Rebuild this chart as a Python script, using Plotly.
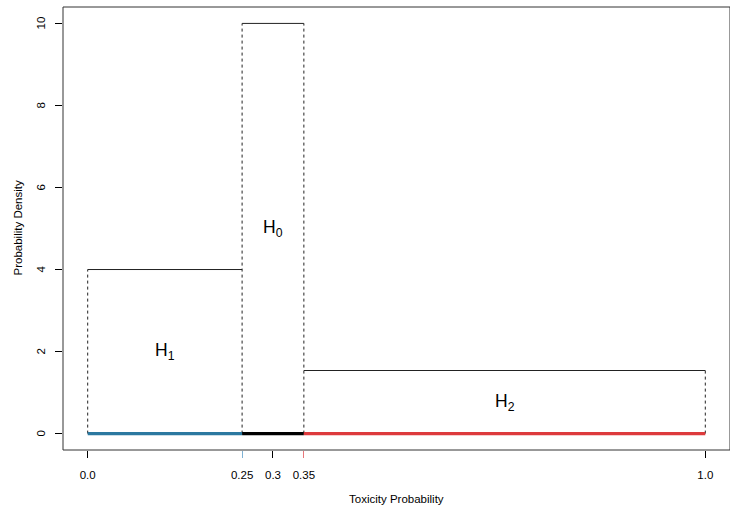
import plotly.graph_objects as go

# Interval bounds for the three hypotheses and the uniform density on each
bounds = [0.0, 0.25, 0.35, 1.0]
densities = [4.0, 10.0, 1.538]
hyp_labels = ["H<sub>1</sub>", "H<sub>0</sub>", "H<sub>2</sub>"]
label_x = [0.125, 0.30, 0.675]
label_y = [2.0, 5.0, 0.77]
seg_colors = ["#2B78A0", "#000000", "#DD3A3C"]

x_ticks = [0.0, 0.3, 1.0]
x_tick_text = ["0.0", "0.3", "1.0"]
y_ticks = [0, 2, 4, 6, 8, 10]

FONT = "Liberation Sans, Arial, sans-serif"
fig = go.Figure()

# Flat tops of each uniform block
for i in range(3):
    fig.add_trace(go.Scatter(
        x=[bounds[i], bounds[i + 1]], y=[densities[i], densities[i]],
        mode="lines", line=dict(color="#222222", width=1),
        hoverinfo="skip", showlegend=False))

# Dashed edges between blocks (up to the taller neighbour)
for j, b in enumerate(bounds):
    neigh = []
    if j > 0:
        neigh.append(densities[j - 1])
    if j < len(densities):
        neigh.append(densities[j])
    fig.add_trace(go.Scatter(
        x=[b, b], y=[0, max(neigh)], mode="lines",
        line=dict(color="#222222", width=1, dash="3px,3px"),
        hoverinfo="skip", showlegend=False))

# Coloured baseline segments marking each hypothesis interval
for i in range(3):
    fig.add_trace(go.Scatter(
        x=[bounds[i], bounds[i + 1]], y=[0, 0], mode="lines",
        line=dict(color=seg_colors[i], width=3.2),
        hoverinfo="skip", showlegend=False))

for lx, ly, t in zip(label_x, label_y, hyp_labels):
    fig.add_annotation(x=lx, y=ly, text=t, showarrow=False,
                       font=dict(size=17.5, color="#000000", family=FONT))

common_x = dict(range=[-0.04, 1.04], showgrid=False, zeroline=False,
                showline=False, ticks="outside", ticklen=7, tickwidth=1,
                ticklabelstandoff=7,
                tickfont=dict(size=11.5, color="#000000", family=FONT))

fig.update_layout(
    width=730, height=509,
    margin=dict(l=63, r=0, t=7, b=59),
    paper_bgcolor="white", plot_bgcolor="white",
    xaxis=dict(**common_x, tickvals=x_ticks, ticktext=x_tick_text,
               tickcolor="#000000"),
    xaxis2=dict(**common_x, overlaying="x", side="bottom", anchor="y",
                tickvals=[bounds[1]], ticktext=["0.25"], tickcolor="#7FB2D4"),
    xaxis3=dict(**common_x, overlaying="x", side="bottom", anchor="y",
                tickvals=[bounds[2]], ticktext=["0.35"], tickcolor="#E8777A"),
    yaxis=dict(range=[-0.4, 10.4], tickvals=y_ticks, showgrid=False,
               zeroline=False, showline=False, ticks="outside", ticklen=7,
               tickwidth=1, tickcolor="#000000", showticklabels=False),
)

# Rotated y tick labels, parallel to the axis
for v in y_ticks:
    fig.add_annotation(x=0, xref="paper", y=v, yref="y", text=str(v),
                       showarrow=False, textangle=-90, xanchor="center",
                       xshift=-22,
                       font=dict(size=11.5, color="#000000", family=FONT))

# empty traces bound to the overlay axes so they get drawn
fig.add_trace(go.Scatter(x=[None], y=[None], xaxis="x2", showlegend=False))
fig.add_trace(go.Scatter(x=[None], y=[None], xaxis="x3", showlegend=False))

# Plot frame
fig.add_shape(type="rect", xref="paper", yref="paper", x0=0, y0=0, x1=1, y1=1,
              line=dict(color="#333333", width=1))

fig.add_annotation(x=0.5, y=0, xref="paper", yref="paper", text="Toxicity Probability",
                   showarrow=False, yanchor="middle", yshift=-49,
                   font=dict(size=11.5, color="#000000", family=FONT))
fig.add_annotation(x=0, y=0.5, xref="paper", yref="paper", text="Probability Density",
                   showarrow=False, xanchor="center", xshift=-46, textangle=-90,
                   font=dict(size=11.5, color="#000000", family=FONT))

fig.write_html("out.html")
